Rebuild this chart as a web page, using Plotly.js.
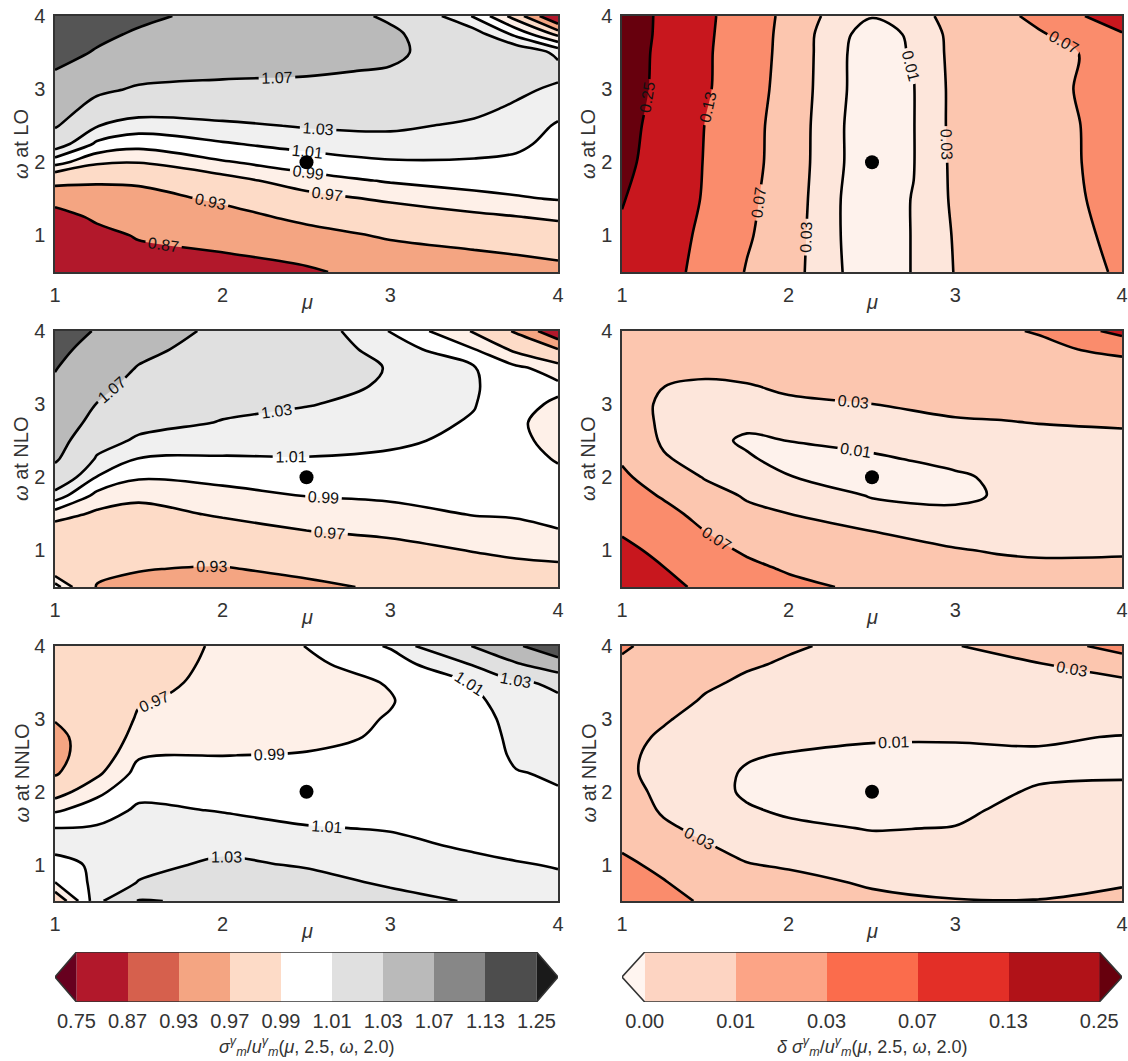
<!DOCTYPE html>
<html>
<head>
<meta charset="utf-8">
<script src="https://cdn.plot.ly/plotly-3.0.1.min.js"></script>
<style>html,body{margin:0;padding:0;background:#fff;}</style>
</head>
<body>
<div id="chart" style="width:1128px;height:1061px;"></div>
<script>
// ---------------- data ----------------
const RATIO_LEVELS = [0.75, 0.87, 0.93, 0.97, 0.99, 1.01, 1.03, 1.07, 1.13, 1.25];
const DELTA_LEVELS = [0.00, 0.01, 0.03, 0.07, 0.13, 0.25];

const CENTER_MU = 2.5;
const CENTER_OMEGA = 2.0;

const OMEGA_Q = [0.5, 0.75, 1, 1.25, 1.5, 1.75, 2, 2.25, 2.5, 2.75, 3, 3.25, 3.5, 3.75, 4];

// LO ratio: one array per mu value, running over OMEGA_Q
const LO_RATIO_MU = [1, 1.25, 1.5, 2, 2.5, 3, 3.5, 3.75, 4];
const LO_RATIO = [
  [0.77, 0.79, 0.81, 0.845, 0.891, 0.946, 0.998, 1.043, 1.074, 1.093, 1.111, 1.129, 1.147, 1.163, 1.18],
  [0.80, 0.825, 0.852, 0.880, 0.907, 0.936, 0.974, 1.006, 1.031, 1.055, 1.079, 1.102, 1.126, 1.14, 1.16],
  [0.836, 0.856, 0.875, 0.895, 0.914, 0.937, 0.971, 0.997, 1.020, 1.042, 1.065, 1.086, 1.105, 1.124, 1.14],
  [0.845, 0.868, 0.891, 0.914, 0.937, 0.961, 0.988, 1.008, 1.025, 1.044, 1.062, 1.077, 1.09, 1.102, 1.115],
  [0.861, 0.888, 0.915, 0.940, 0.961, 0.982, 1.0, 1.017, 1.032, 1.047, 1.063, 1.073, 1.079, 1.085, 1.09],
  [0.896, 0.915, 0.935, 0.954, 0.974, 0.992, 1.008, 1.021, 1.034, 1.045, 1.056, 1.068, 1.076, 1.076, 1.065],
  [0.907, 0.926, 0.945, 0.965, 0.984, 0.997, 1.008, 1.0175, 1.026, 1.036, 1.045, 1.052, 1.05, 1.04, 1.008],
  [0.913, 0.931, 0.950, 0.969, 0.988, 0.998, 1.006, 1.014, 1.020, 1.027, 1.035, 1.045, 1.048, 1.005, 0.96],
  [0.918, 0.937, 0.955, 0.974, 0.991, 0.995, 0.9995, 1.004, 1.008, 1.016, 1.026, 1.037, 1.025, 0.965, 0.80]
];

// LO delta: one array per omega value, running over LO_DELTA_MU
const LO_DELTA_MU = [1, 1.25, 1.5, 1.75, 2, 2.25, 2.5, 2.75, 3, 3.25, 3.5, 3.75, 4];
const LO_DELTA_OMEGA = [0.5, 1, 1.5, 2, 2.5, 3, 3.5, 3.75, 4];
const LO_DELTA = [
  [0.22, 0.155, 0.108, 0.067, 0.041, 0.0125, 0.004, 0.0105, 0.031, 0.041, 0.051, 0.062, 0.074],
  [0.235, 0.165, 0.114, 0.075, 0.043, 0.012, 0.004, 0.0105, 0.032, 0.043, 0.054, 0.065, 0.078],
  [0.256, 0.186, 0.122, 0.08, 0.0455, 0.012, 0.004, 0.0105, 0.034, 0.045, 0.056, 0.068, 0.082],
  [0.278, 0.199, 0.125, 0.085, 0.048, 0.013, 0.004, 0.0095, 0.035, 0.046, 0.057, 0.0695, 0.085],
  [0.288, 0.208, 0.128, 0.086, 0.049, 0.013, 0.004, 0.0095, 0.036, 0.047, 0.058, 0.0699, 0.085],
  [0.303, 0.22, 0.137, 0.091, 0.052, 0.014, 0.004, 0.0095, 0.036, 0.048, 0.06, 0.072, 0.09],
  [0.305, 0.224, 0.138, 0.093, 0.055, 0.0135, 0.005, 0.011, 0.037, 0.049, 0.06, 0.0705, 0.09],
  [0.31, 0.228, 0.14, 0.094, 0.056, 0.014, 0.006, 0.0115, 0.038, 0.052, 0.066, 0.085, 0.125],
  [0.31, 0.23, 0.142, 0.096, 0.058, 0.022, 0.0105, 0.02, 0.04, 0.058, 0.08, 0.125, 0.17]
];

// NLO ratio: one array per mu value, running over OMEGA_Q
const NLO_RATIO_MU = [1, 1.25, 1.5, 2, 2.5, 3, 3.5, 3.75, 4];
const NLO_RATIO = [
  [1.0, 0.95, 0.945, 0.955, 0.981, 1.021, 1.052, 1.075, 1.086, 1.098, 1.11, 1.121, 1.133, 1.15, 1.165],
  [0.928, 0.939, 0.948, 0.957, 0.966, 0.984, 1.009, 1.027, 1.041, 1.056, 1.069, 1.081, 1.092, 1.103, 1.125],
  [0.925, 0.931, 0.941, 0.952, 0.962, 0.975, 0.992, 1.009, 1.026, 1.038, 1.048, 1.058, 1.068, 1.08, 1.093],
  [0.915, 0.928, 0.944, 0.959, 0.973, 0.984, 0.995, 1.008, 1.019, 1.029, 1.035, 1.041, 1.047, 1.053, 1.06],
  [0.923, 0.938, 0.953, 0.969, 0.980, 0.9905, 1.0, 1.009, 1.017, 1.024, 1.031, 1.036, 1.04, 1.043, 1.045],
  [0.935, 0.945, 0.96, 0.975, 0.984, 0.993, 1.0, 1.007, 1.013, 1.019, 1.024, 1.028, 1.029, 1.022, 1.009],
  [0.955, 0.962, 0.971, 0.981, 0.991, 0.994, 0.998, 1.002, 1.006, 1.008, 1.011, 1.012, 1.011, 0.9905, 0.968],
  [0.958, 0.965, 0.974, 0.984, 0.992, 0.996, 0.996, 0.995, 0.993, 0.992, 0.994, 0.998, 0.993, 0.965, 0.925],
  [0.958, 0.966, 0.977, 0.989, 0.994, 0.995, 0.993, 0.989, 0.986, 0.985, 0.988, 0.993, 0.982, 0.931, 0.82]
];

// NLO delta: one array per mu value, running over OMEGA_Q
const NLO_DELTA_MU = [1, 1.25, 1.5, 1.75, 2, 2.5, 3, 3.25, 3.5, 4];
const NLO_DELTA = [
  [0.2, 0.17, 0.145, 0.125, 0.108, 0.09, 0.077, 0.066, 0.056, 0.047, 0.042, 0.043, 0.046, 0.05, 0.055],
  [0.15, 0.132, 0.115, 0.1, 0.082, 0.066, 0.05, 0.033, 0.026, 0.025, 0.026, 0.0302, 0.036, 0.043, 0.05],
  [0.115, 0.098, 0.083, 0.0705, 0.057, 0.042, 0.028, 0.019, 0.014, 0.014, 0.018, 0.027, 0.035, 0.042, 0.048],
  [0.095, 0.079, 0.065, 0.051, 0.037, 0.027, 0.018, 0.0115, 0.008, 0.013, 0.021, 0.029, 0.036, 0.043, 0.048],
  [0.08, 0.066, 0.053, 0.041, 0.0302, 0.02, 0.0105, 0.006, 0.0101, 0.019, 0.027, 0.033, 0.038, 0.043, 0.047],
  [0.062, 0.05, 0.039, 0.0305, 0.016, 0.009, 0.005, 0.008, 0.014, 0.022, 0.0299, 0.036, 0.041, 0.046, 0.05],
  [0.045, 0.037, 0.031, 0.024, 0.013, 0.007, 0.008, 0.0135, 0.02, 0.028, 0.035, 0.041, 0.047, 0.053, 0.059],
  [0.04, 0.034, 0.029, 0.022, 0.015, 0.011, 0.012, 0.016, 0.022, 0.029, 0.036, 0.043, 0.05, 0.058, 0.066],
  [0.037, 0.033, 0.028, 0.023, 0.018, 0.015, 0.016, 0.019, 0.024, 0.0305, 0.038, 0.046, 0.054, 0.063, 0.072],
  [0.036, 0.032, 0.029, 0.025, 0.022, 0.02, 0.02, 0.022, 0.026, 0.032, 0.04, 0.05, 0.058, 0.078, 0.15]
];

// NNLO ratio: one array per mu value, running over OMEGA_Q
const NNLO_RATIO_MU = [1, 1.25, 1.5, 2, 2.5, 3, 3.5, 3.75, 4];
const NNLO_RATIO = [
  [0.95, 0.9895, 1.004, 1.015, 1.0102, 0.987, 0.96, 0.926, 0.917, 0.92, 0.932, 0.937, 0.94, 0.943, 0.945],
  [1.022, 1.016, 1.013, 1.016, 1.012, 1.0, 0.985, 0.966, 0.955, 0.95, 0.948, 0.948, 0.948, 0.948, 0.948],
  [1.072, 1.031, 1.024, 1.021, 1.017, 1.013, 1.005, 0.997, 0.988, 0.979, 0.973, 0.968, 0.963, 0.959, 0.955],
  [1.065, 1.048, 1.034, 1.025, 1.016, 1.009, 1.003, 0.996, 0.9898, 0.983, 0.979, 0.977, 0.976, 0.975, 0.974],
  [1.05, 1.038, 1.028, 1.02, 1.011, 1.005, 1.0, 0.996, 0.991, 0.986, 0.983, 0.982, 0.983, 0.986, 0.9905],
  [1.038, 1.027, 1.021, 1.014, 1.009, 1.005, 1.001, 0.998, 0.995, 0.992, 0.991, 0.989, 0.991, 1.0, 1.012],
  [1.028, 1.021, 1.014, 1.008, 1.004, 1.002, 1.0, 0.999, 0.999, 1.0, 1.002, 1.006, 1.011, 1.032, 1.072],
  [1.022, 1.016, 1.011, 1.006, 1.003, 1.002, 1.004, 1.009, 1.013, 1.015, 1.017, 1.02, 1.027, 1.065, 1.12],
  [1.018, 1.013, 1.009, 1.006, 1.005, 1.006, 1.009, 1.012, 1.016, 1.019, 1.022, 1.027, 1.034, 1.10, 1.18]
];

// NNLO delta: one array per mu value, running over OMEGA_Q
const NNLO_DELTA_MU = [1, 1.25, 1.5, 1.75, 2, 2.5, 3, 3.5, 4];
const NNLO_DELTA = [
  [0.1, 0.088, 0.077, 0.066, 0.055, 0.045, 0.038, 0.034, 0.034, 0.037, 0.042, 0.048, 0.055, 0.064, 0.075],
  [0.08, 0.072, 0.062, 0.051, 0.034, 0.027, 0.025, 0.024, 0.025, 0.027, 0.032, 0.038, 0.044, 0.05, 0.057],
  [0.066, 0.055, 0.044, 0.032, 0.024, 0.018, 0.014, 0.014, 0.016, 0.019, 0.023, 0.028, 0.033, 0.038, 0.043],
  [0.055, 0.044, 0.031, 0.023, 0.016, 0.011, 0.0085, 0.0088, 0.011, 0.015, 0.019, 0.023, 0.027, 0.032, 0.036],
  [0.048, 0.038, 0.027, 0.018, 0.012, 0.0085, 0.006, 0.0065, 0.0092, 0.014, 0.018, 0.021, 0.024, 0.028, 0.032],
  [0.036, 0.027, 0.019, 0.013, 0.0095, 0.006, 0.004, 0.005, 0.008, 0.011, 0.014, 0.017, 0.019, 0.022, 0.025],
  [0.031, 0.023, 0.017, 0.013, 0.0103, 0.008, 0.0065, 0.0068, 0.0088, 0.0105, 0.014, 0.018, 0.021, 0.025, 0.029],
  [0.0305, 0.025, 0.021, 0.018, 0.0155, 0.0135, 0.011, 0.0085, 0.0092, 0.0108, 0.014, 0.018, 0.023, 0.029, 0.042],
  [0.036, 0.028, 0.023, 0.019, 0.016, 0.0135, 0.0115, 0.0092, 0.0088, 0.0097, 0.013, 0.019, 0.0255, 0.042, 0.09]
];

// fill colours of the bands inside the panels (below first level ... above last level)
const RATIO_FILL = ['#67001f', '#b2182b', '#f4a582', '#fddbc7', '#fef0e8', '#ffffff', '#f0f0f0', '#e0e0e0', '#bababa', '#555555', '#1a1a1a'];
const DELTA_FILL = ['#fff5f0', '#fef2ec', '#fde6db', '#fcc6af', '#fa8c6c', '#c8171e', '#67000d'];
// colours of the colour bars (low extension, segments, high extension)
const RATIO_BAR = ['#67001f', '#b2182b', '#d6604d', '#f4a582', '#fddbc7', '#ffffff', '#e0e0e0', '#bababa', '#878787', '#4d4d4d', '#1a1a1a'];
const DELTA_BAR = ['#fff5f0', '#fdd4c2', '#fca486', '#fb6c4c', '#e32f27', '#b11218', '#67000d'];

const ORDER_LABELS = ['LO', 'NLO', 'NNLO'];

// ---------------- build ----------------
const FONT = 'Liberation Sans, Arial, Helvetica, sans-serif';
const TXT = '#333333';
const SMOOTH = 1;

function transpose(cols) { return cols[0].map((_, j) => cols.map(c => c[j])); }

const panels = [
  {kind: 'ratio', mu: LO_RATIO_MU, omega: OMEGA_Q, z: transpose(LO_RATIO)},
  {kind: 'delta', mu: LO_DELTA_MU, omega: LO_DELTA_OMEGA, z: LO_DELTA},
  {kind: 'ratio', mu: NLO_RATIO_MU, omega: OMEGA_Q, z: transpose(NLO_RATIO)},
  {kind: 'delta', mu: NLO_DELTA_MU, omega: OMEGA_Q, z: transpose(NLO_DELTA)},
  {kind: 'ratio', mu: NNLO_RATIO_MU, omega: OMEGA_Q, z: transpose(NNLO_RATIO)},
  {kind: 'delta', mu: NNLO_DELTA_MU, omega: OMEGA_Q, z: transpose(NNLO_DELTA)}
];

const W = 1128, H = 1061;
const COL_PX = [[55, 558], [622, 1122]];
const ROW_PX = [[16, 272], [331, 587], [646, 901]];
const px2x = v => v / W;
const px2y = v => 1 - v / H;

const traces = [];
const layout = {
  width: W, height: H,
  margin: {l: 0, r: 0, t: 0, b: 0},
  paper_bgcolor: '#ffffff', plot_bgcolor: '#ffffff',
  showlegend: false,
  font: {family: FONT, size: 16, color: TXT},
  annotations: []
};

panels.forEach((p, i) => {
  const n = i + 1;
  const row = Math.floor(i / 2), col = i % 2;
  const xa = 'x' + (n > 1 ? n : ''), ya = 'y' + (n > 1 ? n : '');
  const levels = p.kind === 'ratio' ? RATIO_LEVELS : DELTA_LEVELS;
  const fills = p.kind === 'ratio' ? RATIO_FILL : DELTA_FILL;

  // filled bands: base + one "above level" fill per level
  const fillValues = [-1e9].concat(levels);
  fillValues.forEach((v, k) => {
    traces.push({
      type: 'contour', x: p.mu, y: p.omega, z: p.z, xaxis: xa, yaxis: ya,
      showscale: false, hoverinfo: 'skip',
      contours: {type: 'constraint', operation: '<', value: v, showlines: false},
      fillcolor: fills[k],
      line: {width: 0, smoothing: SMOOTH}
    });
  });
  // contour lines with labels
  levels.forEach(v => {
    traces.push({
      type: 'contour', x: p.mu, y: p.omega, z: p.z, xaxis: xa, yaxis: ya,
      showscale: false, hoverinfo: 'skip', autocontour: false,
      contours: {type: 'levels', start: v, end: v, size: 1, coloring: 'none',
                 showlabels: true, labelformat: '.2f',
                 labelfont: {family: FONT, size: 16, color: '#111111'}},
      line: {color: '#000000', width: 2.6, smoothing: SMOOTH}
    });
  });
  // reference point
  traces.push({
    type: 'scatter', mode: 'markers', x: [CENTER_MU], y: [CENTER_OMEGA], xaxis: xa, yaxis: ya,
    marker: {color: '#000000', size: 14}, hoverinfo: 'skip', cliponaxis: false
  });

  const common = {
    showgrid: false, zeroline: false, showline: true, mirror: true,
    linecolor: '#333333', linewidth: 1.6,
    ticks: 'outside', ticklen: 4, tickcolor: 'rgba(0,0,0,0)',
    tickfont: {family: FONT, size: 20, color: TXT}, fixedrange: true
  };
  layout['xaxis' + (n > 1 ? n : '')] = Object.assign({}, common, {
    domain: [px2x(COL_PX[col][0]), px2x(COL_PX[col][1])],
    anchor: ya, range: [1, 4], tickvals: [1, 2, 3, 4]
  });
  layout['yaxis' + (n > 1 ? n : '')] = Object.assign({}, common, {
    domain: [px2y(ROW_PX[row][1]), px2y(ROW_PX[row][0])],
    anchor: xa, range: [0.5, 4], tickvals: [1, 2, 3, 4]
  });

  // axis titles
  layout.annotations.push({
    xref: 'paper', yref: 'paper',
    x: px2x((COL_PX[col][0] + COL_PX[col][1]) / 2), y: px2y(ROW_PX[row][1] + 30),
    text: '<i>μ</i>', showarrow: false, xanchor: 'center', yanchor: 'middle',
    font: {family: FONT, size: 20, color: TXT}
  });
  layout.annotations.push({
    xref: 'paper', yref: 'paper',
    x: px2x(COL_PX[col][0] - 34), y: px2y((ROW_PX[row][0] + ROW_PX[row][1]) / 2),
    text: '<i>ω</i> at ' + ORDER_LABELS[row], showarrow: false, textangle: -90,
    xanchor: 'center', yanchor: 'middle',
    font: {family: FONT, size: 20, color: TXT}
  });
});

// ---------------- colour bars ----------------
function addColorbar(n, levels, colors, ext, xPx, title) {
  const xa = 'x' + n, ya = 'y' + n;
  const segs = colors.slice(1, colors.length - 1);
  const m = segs.length;
  const scale = [];
  segs.forEach((c, i) => { scale.push([i / m, c]); scale.push([(i + 1) / m, c]); });
  traces.push({
    type: 'heatmap', xaxis: xa, yaxis: ya,
    x: levels.map((_, i) => i), y: [0, 1],
    z: [segs.map((_, i) => i)], zmin: -0.5, zmax: m - 0.5,
    colorscale: scale, showscale: false, hoverinfo: 'skip'
  });
  traces.push({
    type: 'scatter', mode: 'lines', xaxis: xa, yaxis: ya,
    x: [0, -ext, 0, 0], y: [0, 0.5, 1, 0], fill: 'toself',
    fillcolor: colors[0], line: {width: 0}, hoverinfo: 'skip'
  });
  traces.push({
    type: 'scatter', mode: 'lines', xaxis: xa, yaxis: ya,
    x: [m, m + ext, m, m], y: [0, 0.5, 1, 0], fill: 'toself',
    fillcolor: colors[colors.length - 1], line: {width: 0}, hoverinfo: 'skip'
  });
  traces.push({
    type: 'scatter', mode: 'lines', xaxis: xa, yaxis: ya,
    x: [0, -ext, 0, m, m + ext, m, 0], y: [0, 0.5, 1, 1, 0.5, 0, 0],
    line: {color: '#333333', width: 1.6}, hoverinfo: 'skip', cliponaxis: false
  });
  layout['xaxis' + n] = {
    domain: [px2x(xPx[0]), px2x(xPx[1])], anchor: ya,
    range: [-ext, m + ext], tickvals: levels.map((_, i) => i),
    ticktext: levels.map(v => v.toFixed(2)),
    showgrid: false, zeroline: false, showline: false,
    ticks: 'outside', ticklen: 1, tickcolor: 'rgba(0,0,0,0)',
    tickfont: {family: FONT, size: 20, color: TXT}, fixedrange: true
  };
  layout['yaxis' + n] = {
    domain: [px2y(1002), px2y(952)], anchor: xa, range: [0, 1],
    visible: false, fixedrange: true
  };
  layout.annotations.push({
    xref: 'paper', yref: 'paper', x: px2x((xPx[0] + xPx[1]) / 2), y: px2y(1046),
    text: title, showarrow: false, xanchor: 'center', yanchor: 'middle',
    font: {family: FONT, size: 18, color: TXT}
  });
}

const RATIO_TITLE = '<i>σ</i><sup><i>γ</i></sup><sub><i>m</i></sub>/<i>u</i><sup><i>γ</i></sup><sub><i>m</i></sub>(<i>μ</i>, 2.5, <i>ω</i>, 2.0)';
const DELTA_TITLE = '<i>δ σ</i><sup><i>γ</i></sup><sub><i>m</i></sub>/<i>u</i><sup><i>γ</i></sup><sub><i>m</i></sub>(<i>μ</i>, 2.5, <i>ω</i>, 2.0)';

addColorbar(7, RATIO_LEVELS, RATIO_BAR, 0.42, [55, 558], RATIO_TITLE);
addColorbar(8, DELTA_LEVELS, DELTA_BAR, 0.25, [622, 1122], DELTA_TITLE);

Plotly.newPlot('chart', traces, layout, {staticPlot: true, displayModeBar: false});
</script>
</body>
</html>
